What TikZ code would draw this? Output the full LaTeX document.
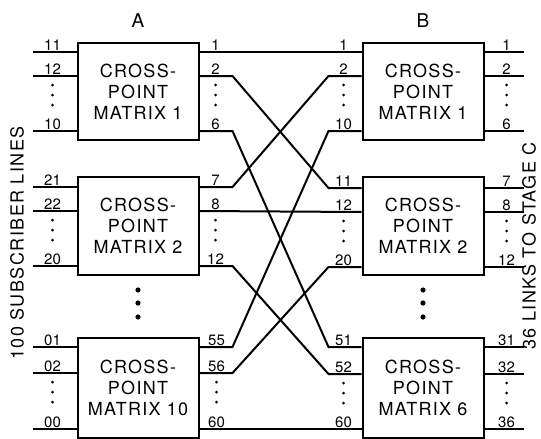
\documentclass[tikz,border=0pt]{standalone}
\usepackage{fontspec}
\setmainfont{TeX Gyre Heros}
\usetikzlibrary{calc, positioning}
\tikzset{
	xbox/.style={rectangle, draw=black, line width=2pt, align=center, minimum width=121pt, inner sep=0pt, font=\fontsize{18}{21}\selectfont\addfontfeatures{LetterSpace=7}},
	wire/.style={line width=2pt, draw=black},
	pinlabel/.style={anchor=south, inner sep=1.5pt, font=\fontsize{15}{15}\selectfont},
	stagelabel/.style={inner sep=0pt, font=\fontsize{19}{19}\selectfont},
	sidelabel/.style={rotate=90, inner sep=0pt, font=\fontsize{18}{18}\selectfont\addfontfeatures{LetterSpace=8}},
}
\begin{document}
\begin{tikzpicture}[x=1pt, y=-1pt]
	\useasboundingbox (0,0) rectangle (541,439);
	% stage A
	\node[xbox, minimum height=97pt] (A1) at (138,91.5) {CROSS-\\POINT\\MATRIX 1};
	\node[xbox, minimum height=98pt] (A2) at (138,226) {CROSS-\\POINT\\MATRIX 2};
	\node[xbox, minimum height=100pt] (A10) at (138,388) {CROSS-\\POINT\\MATRIX 10};
	% stage B
	\node[xbox, minimum height=97pt] (B1) at (423,91.5) {CROSS-\\POINT\\MATRIX 1};
	\node[xbox, minimum height=98pt] (B2) at (423,226) {CROSS-\\POINT\\MATRIX 2};
	\node[xbox, minimum height=100pt] (B6) at (423,388) {CROSS-\\POINT\\MATRIX 6};
	\node[stagelabel, above=14pt of A1] (titleA) {A};
	\node[stagelabel, above=14pt of B1] (titleB) {B};
	\node[sidelabel] (subs) at (17,243) {100 SUBSCRIBER LINES};
	\node[sidelabel] (links) at (529,246) {36 LINKS TO STAGE C};
	% pins
	\foreach \bx/\ya/\yb/\yc in {A1/52/76/131, A2/187/211/266, A10/347/373/429, B1/52/76/131, B2/188/212/267, B6/347/374/429}{
		\foreach \k/\y in {1/\ya, 2/\yb, 3/\yc}{
			\coordinate (\bx-i\k) at (\bx.west |- 0,\y);
			\coordinate (\bx-o\k) at (\bx.east |- 0,\y);
		}
	}
	\foreach \bx in {A1,A2,A10} \foreach \k in {1,2,3}{
		\coordinate (\bx-s\k) at ($(\bx-i\k)+(-44,0)$);
		\draw[wire] (\bx-s\k) -- (\bx-i\k);
	}
	\foreach \bx in {B1,B2,B6} \foreach \k in {1,2,3}{
		\coordinate (\bx-s\k) at ($(\bx-o\k)+(39,0)$);
		\draw[wire] (\bx-o\k) -- (\bx-s\k);
	}
	% links A to B
	\draw[wire] (A1-o1) -- (B1-i1);
	\draw[wire] (A2-o2) -- (B2-i2);
	\draw[wire] (A10-o3) -- (B6-i3);
	\foreach \from/\to in {A1-o2/B2-i1, A1-o3/B6-i1, A2-o1/B1-i2, A2-o3/B6-i2, A10-o1/B1-i3, A10-o2/B2-i3}
		\draw[wire] (\from) -- ++(33,0) -- ($(\to)+(-33,0)$) -- (\to);
	% pin numbers
	\foreach \bx/\dl/\dr/\la/\lb/\lc/\ra/\rb/\rc in {A1/-24/16/11/12/10/1/2/6, A2/-24/16/21/22/20/7/8/12, A10/-24/17/01/02/00/55/56/60, B1/-18/22/1/2/10/1/2/6, B2/-18/22/11/12/20/7/8/12, B6/-18/22/51/52/60/31/32/36}{
		\node[pinlabel] (\bx-li1) at ($(\bx-i1)+(\dl,0)$) {\la};
		\node[pinlabel] (\bx-li2) at ($(\bx-i2)+(\dl,0)$) {\lb};
		\node[pinlabel] (\bx-li3) at ($(\bx-i3)+(\dl,0)$) {\lc};
		\node[pinlabel] (\bx-lo1) at ($(\bx-o1)+(\dr,0)$) {\ra};
		\node[pinlabel] (\bx-lo2) at ($(\bx-o2)+(\dr,0)$) {\rb};
		\node[pinlabel] (\bx-lo3) at ($(\bx-o3)+(\dr,0)$) {\rc};
		\foreach \d in {9,19,29}{
			\fill ($(\bx-i2)+(\dl,\d)$) circle (1.5pt);
			\fill ($(\bx-o2)+(\dr,\d)$) circle (1.5pt);
		}
	}
	% more matrices
	\foreach \d in {290,303,317}{
		\fill (A1.center |- 0,\d) circle (2.6pt);
		\fill (B1.center |- 0,\d) circle (2.6pt);
	}
\end{tikzpicture}
\end{document}
